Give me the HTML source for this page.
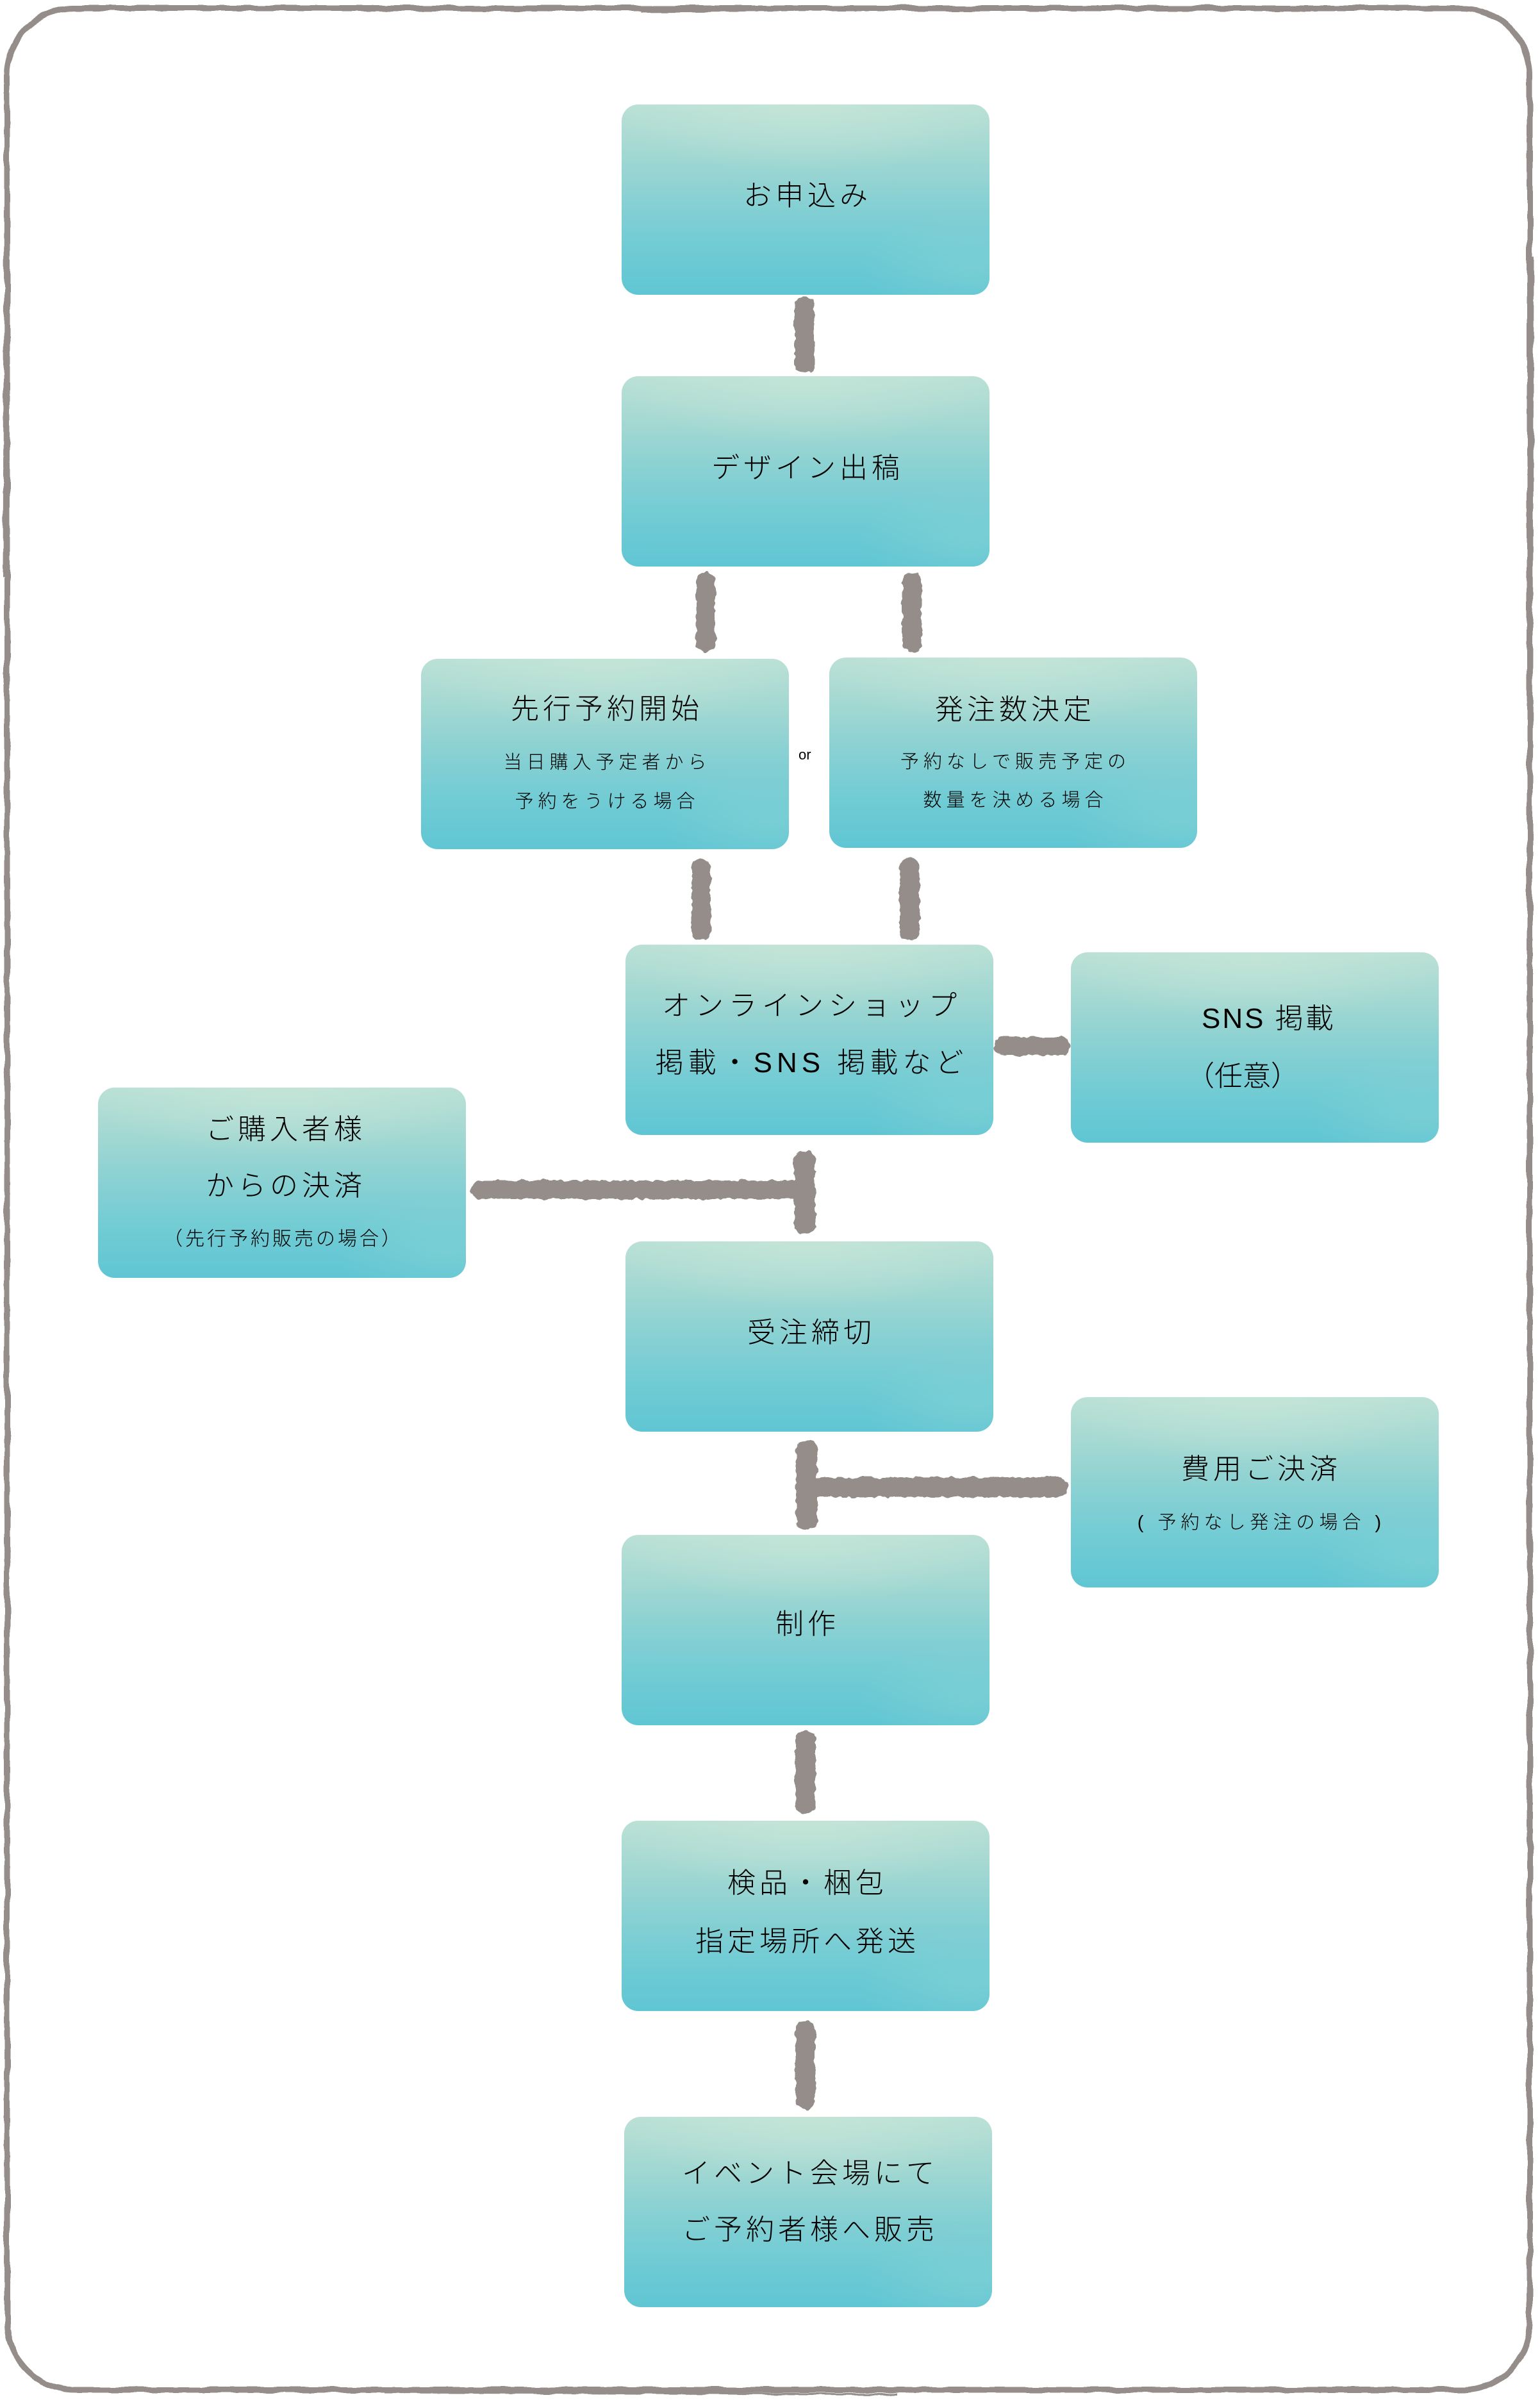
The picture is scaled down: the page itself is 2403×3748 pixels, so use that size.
<!DOCTYPE html>
<html>
<head>
<meta charset="utf-8">
<style>
  html,body{margin:0;padding:0;background:#fff;}
  body{width:2403px;height:3748px;position:relative;overflow:hidden;
       font-family:"Liberation Sans","Noto Sans CJK JP",sans-serif;font-weight:300;color:#000;}
  .box{position:absolute;width:574px;height:297px;border-radius:26px;
    background:
      radial-gradient(ellipse 55% 35% at 50% 0%, rgba(198,230,216,0.75), rgba(198,230,216,0) 100%),
      radial-gradient(ellipse 30% 30% at 95% 85%, rgba(150,215,215,0.35), rgba(150,215,215,0) 100%),
      linear-gradient(180deg,#bae0d5 0%,#a0d7d2 28%,#86d0d3 52%,#6fcbd4 76%,#60c6d3 100%);}
  .t{position:absolute;white-space:nowrap;text-align:center;box-sizing:border-box;}
  .m{font-size:44px;line-height:60px;height:60px;letter-spacing:6px;padding-left:6px;}
  .s{font-size:29px;line-height:40px;height:40px;letter-spacing:7px;padding-left:7px;}
</style>
</head>
<body>

<svg width="2403" height="3748" style="position:absolute;left:0;top:0">
  <defs>
    <filter id="rough" x="-5%" y="-5%" width="110%" height="110%">
      <feTurbulence type="fractalNoise" baseFrequency="0.09" numOctaves="2" seed="4"/>
      <feDisplacementMap in="SourceGraphic" scale="8" xChannelSelector="R" yChannelSelector="G"/>
    </filter>
    <filter id="rough2" x="-2%" y="-2%" width="104%" height="104%">
      <feTurbulence type="fractalNoise" baseFrequency="0.03" numOctaves="2" seed="7"/>
      <feDisplacementMap in="SourceGraphic" scale="6" xChannelSelector="R" yChannelSelector="G"/>
    </filter>
  </defs>

  <!-- frame -->
  <g fill="none" stroke="#948d8a" filter="url(#rough2)">
    <rect x="11" y="13" width="2376" height="3716" rx="105" ry="105" stroke-width="9"/>
    <path d="M130 16 L700 12 M1000 18 L1600 14 M8 300 L6 900 M2392 400 L2390 1200 M600 3733 L1400 3736" stroke-width="3"/>
  </g>

  <!-- connectors -->
  <g fill="#948d8a" filter="url(#rough)">
    <rect x="1240" y="463" width="31" height="120" rx="14"/>
    <rect x="1086" y="893" width="30" height="125" rx="14"/>
    <rect x="1408" y="893" width="30" height="125" rx="14"/>
    <rect x="1079" y="1340" width="30" height="127" rx="14"/>
    <rect x="1404" y="1339" width="31" height="128" rx="14"/>
    <rect x="1552" y="1618" width="117" height="29" rx="13"/>
    <rect x="735" y="1842" width="520" height="29" rx="13"/>
    <rect x="1239" y="1796" width="33" height="129" rx="14"/>
    <rect x="1242" y="2248" width="33" height="138" rx="14"/>
    <rect x="1258" y="2305" width="408" height="31" rx="14"/>
    <rect x="1241" y="2700" width="31" height="131" rx="14"/>
    <rect x="1241" y="3154" width="31" height="137" rx="14"/>
  </g>
</svg>

<!-- boxes -->
<div class="box" style="left:970px;top:163px;"></div>
<div class="box" style="left:970px;top:587px;"></div>
<div class="box" style="left:657px;top:1028px;"></div>
<div class="box" style="left:1294px;top:1026px;"></div>
<div class="box" style="left:976px;top:1474px;"></div>
<div class="box" style="left:1671px;top:1486px;"></div>
<div class="box" style="left:153px;top:1697px;"></div>
<div class="box" style="left:976px;top:1937px;"></div>
<div class="box" style="left:1671px;top:2180px;"></div>
<div class="box" style="left:970px;top:2395px;"></div>
<div class="box" style="left:970px;top:2841px;"></div>
<div class="box" style="left:974px;top:3303px;"></div>

<!-- texts -->
<div class="t m" style="left:970px;width:574px;top:276px;">お申込み</div>
<div class="t m" style="left:970px;width:574px;top:701px;">デザイン出稿</div>

<div class="t m" style="left:657px;width:574px;top:1077px;">先行予約開始</div>
<div class="t s" style="left:657px;width:574px;top:1170px;">当日購入予定者から</div>
<div class="t s" style="left:657px;width:574px;top:1231px;">予約をうける場合</div>

<div class="t" style="left:1246px;top:1164px;font-size:22px;line-height:28px;font-family:'Liberation Sans',sans-serif;">or</div>

<div class="t m" style="left:1294px;width:574px;top:1078px;">発注数決定</div>
<div class="t s" style="left:1294px;width:574px;top:1169px;">予約なしで販売予定の</div>
<div class="t s" style="left:1294px;width:574px;top:1229px;">数量を決める場合</div>

<div class="t m" style="left:976px;width:574px;top:1540px;letter-spacing:8px;padding-left:8px;">オンラインショップ</div>
<div class="t m" style="left:976px;width:574px;top:1629px;letter-spacing:7px;padding-left:7px;">掲載・SNS 掲載など</div>

<div class="t m" style="left:1875px;top:1560px;text-align:left;letter-spacing:3px;padding-left:0;">SNS 掲載</div>
<div class="t m" style="left:1851px;top:1650px;text-align:left;letter-spacing:0;padding-left:0;">（任意）</div>

<div class="t m" style="left:156px;width:574px;top:1733px;">ご購入者様</div>
<div class="t m" style="left:156px;width:574px;top:1821px;">からの決済</div>
<div class="t s" style="left:153px;width:574px;top:1914px;font-size:30px;letter-spacing:4px;padding-left:4px;">（先行予約販売の場合）</div>

<div class="t m" style="left:976px;width:574px;top:2050px;">受注締切</div>

<div class="t m" style="left:1678px;width:574px;top:2263px;">費用ご決済</div>
<div class="t s" style="left:1678px;width:574px;top:2356px;">( 予約なし発注の場合 )</div>

<div class="t m" style="left:970px;width:574px;top:2505px;">制作</div>

<div class="t m" style="left:970px;width:574px;top:2909px;">検品・梱包</div>
<div class="t m" style="left:970px;width:574px;top:3000px;">指定場所へ発送</div>

<div class="t m" style="left:974px;width:574px;top:3362px;">イベント会場にて</div>
<div class="t m" style="left:974px;width:574px;top:3450px;">ご予約者様へ販売</div>

</body>
</html>
